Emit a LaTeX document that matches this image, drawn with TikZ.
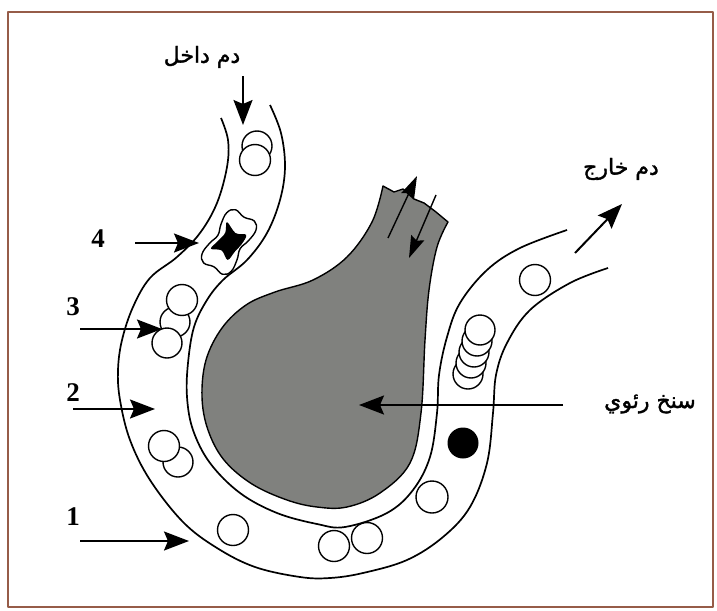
\documentclass[tikz,border=0pt]{standalone}
\usepackage{fontspec}
\usetikzlibrary{arrows.meta}
\TeXXeTstate=1
\newfontfamily\arabicfont[Script=Arabic,FakeBold=1.6]{DejaVu Sans}
\newfontfamily\zahlfont{Liberation Serif}
\definecolor{rahmen}{RGB}{150,92,72}
\definecolor{sackgrau}{RGB}{128,129,126}

\begin{document}
\begin{tikzpicture}[x=1pt,y=-1pt,line join=round,
    wand/.style={line width=1.7pt},
    pfeil/.style={line width=2pt,-{Stealth[length=25pt,width=19pt,inset=4pt]}},
    duenn/.style={line width=1.4pt,-{Stealth[length=22pt,width=14pt,inset=3pt]}},
    zelle/.style={draw,line width=1.4pt,fill=white},
    zahl/.style={font=\zahlfont\bfseries\fontsize{27}{27}\selectfont},
    schrift/.style={font=\arabicfont\fontsize{22}{24}\selectfont}]

    \useasboundingbox (0,0) rectangle (717,610);
    \fill[white] (0,0) rectangle (717,610);
    \draw[rahmen, line width=2pt] (8,12) rectangle (713,607);

    % alveolus with its neck
    \filldraw[fill=sackgrau, line width=1.4pt]
        plot[smooth, tension=0.6] coordinates {(448,222) (437,247) (429,290) (425,340) (421,413)
            (410,463) (380,493) (347,507) (317,507) (287,500) (252,484) (224,460) (208,430)
            (202,397) (206,360) (222,328) (246,305) (275,292) (313,280) (347,257) (372,222) (383,186)}
        -- (394,192) -- (403,189) -- (414,199) -- (424,203) -- (436,212) -- cycle;

    % capillary walls
    \draw[wand] plot[smooth, tension=0.6] coordinates {(221,118) (228,140) (227,167) (217,203)
        (200,233) (177,257) (150,278) (133,307) (122,340) (118,370) (120,400) (130,440) (150,480)
        (183,522) (217,548) (255,567) (300,577) (330,578) (363,573) (407,560) (443,537) (470,507)
        (487,463) (493,413) (496,375) (507,343) (530,310) (570,283) (608,268)};
    \draw[wand] plot[smooth, tension=0.6] coordinates {(270,105) (281,133) (285,167) (280,200)
        (267,233) (247,260) (223,280) (207,300) (194,327) (188,363) (187,397) (193,430) (210,463)
        (240,493) (277,513) (317,524) (345,527) (387,513) (413,490) (430,457) (437,413) (439,375)
        (447,337) (460,303) (487,270) (520,248) (567,230)};

    % gas exchange in the neck
    \coordinate (auf1) at (388,238);
    \coordinate (auf2) at (417,176);
    \coordinate (ab1) at (436,195);
    \coordinate (ab2) at (409,258);
    \draw[duenn] (auf1) -- (auf2);
    \draw[duenn] (ab1) -- (ab2);

    % blood cells
    \node[zelle, circle, minimum size=30pt] (c1) at (257,146) {};
    \node[zelle, circle, minimum size=31pt] (c2) at (255,160) {};
    \node[zelle, circle, minimum size=30pt] (c4) at (175,322) {};
    \node[zelle, circle, minimum size=30pt] (c5) at (167,343) {};
    \node[zelle, circle, minimum size=31pt] (c3) at (182,300) {};
    \node[zelle, circle, minimum size=30pt] (c6) at (178,462) {};
    \node[zelle, circle, minimum size=31pt] (c7) at (164,446) {};
    \node[zelle, circle, minimum size=31pt] (c8) at (233,530) {};
    \node[draw, line width=1.4pt, circle, minimum size=31pt] (c9) at (334,546) {};
    \node[draw, line width=1.4pt, circle, minimum size=31pt] (c10) at (367,538) {};
    \node[zelle, circle, minimum size=32pt] (c11) at (432,497) {};
    \node[circle, fill=black, minimum size=31pt] (c12) at (463,443) {};
    \foreach \i/\px/\py in {5/468/374, 4/471/363, 3/474/352, 2/477/341, 1/480/330}
        \node[zelle, circle, minimum size=30pt] (s\i) at (\px,\py) {};
    \node[zelle, circle, minimum size=31pt] (c13) at (535,280) {};

    % deformed cell with dark inner body
    \begin{scope}[shift={(229,242)}, rotate=59]
        \filldraw[fill=white, line width=1.4pt] plot[smooth cycle, tension=0.7] coordinates {
            (29,0) (31,-11) (24,-17) (11,-16) (0,-13) (-11,-16) (-24,-17) (-31,-11)
            (-29,0) (-31,11) (-24,17) (-11,16) (0,13) (11,16) (24,17) (31,11)};
        \fill[black] plot[smooth cycle, tension=0.6] coordinates {
            (16,-12) (6,-8) (-5,-10) (-15,-12) (-11,-2) (-16,8) (-5,10) (5,12) (15,11) (11,1)};
    \end{scope}

    % labels
    \node[schrift] (ein) at (202,57) {\beginR دم داخل\endR};
    \node[schrift] (aus) at (621,169) {\beginR دم خارج\endR};
    \node[schrift] (sack) at (650,404) {\beginR سنخ رئوي\endR};
    \node[zahl] (n4) at (98,239) {4};
    \node[zahl] (n3) at (73,307) {3};
    \node[zahl] (n2) at (73,393) {2};
    \node[zahl] (n1) at (73,517) {1};

    % arrows
    \coordinate (e1) at (243,76);
    \coordinate (e2) at (243,125);
    \coordinate (a1) at (575,253);
    \coordinate (a2) at (622,204);
    \coordinate (s1) at (563,405);
    \coordinate (s2) at (359,405);
    \coordinate (p4) at (135,243);
    \coordinate (q4) at (199,243);
    \coordinate (p3) at (80,329);
    \coordinate (q3) at (162,329);
    \coordinate (p2) at (73,409);
    \coordinate (q2) at (155,409);
    \coordinate (p1) at (80,541);
    \coordinate (q1) at (189,541);
    \draw[pfeil] (e1) -- (e2);
    \draw[pfeil] (a1) -- (a2);
    \draw[pfeil] (s1) -- (s2);
    \draw[pfeil] (p4) -- (q4);
    \draw[pfeil] (p3) -- (q3);
    \draw[pfeil] (p2) -- (q2);
    \draw[pfeil] (p1) -- (q1);

\end{tikzpicture}
\end{document}
